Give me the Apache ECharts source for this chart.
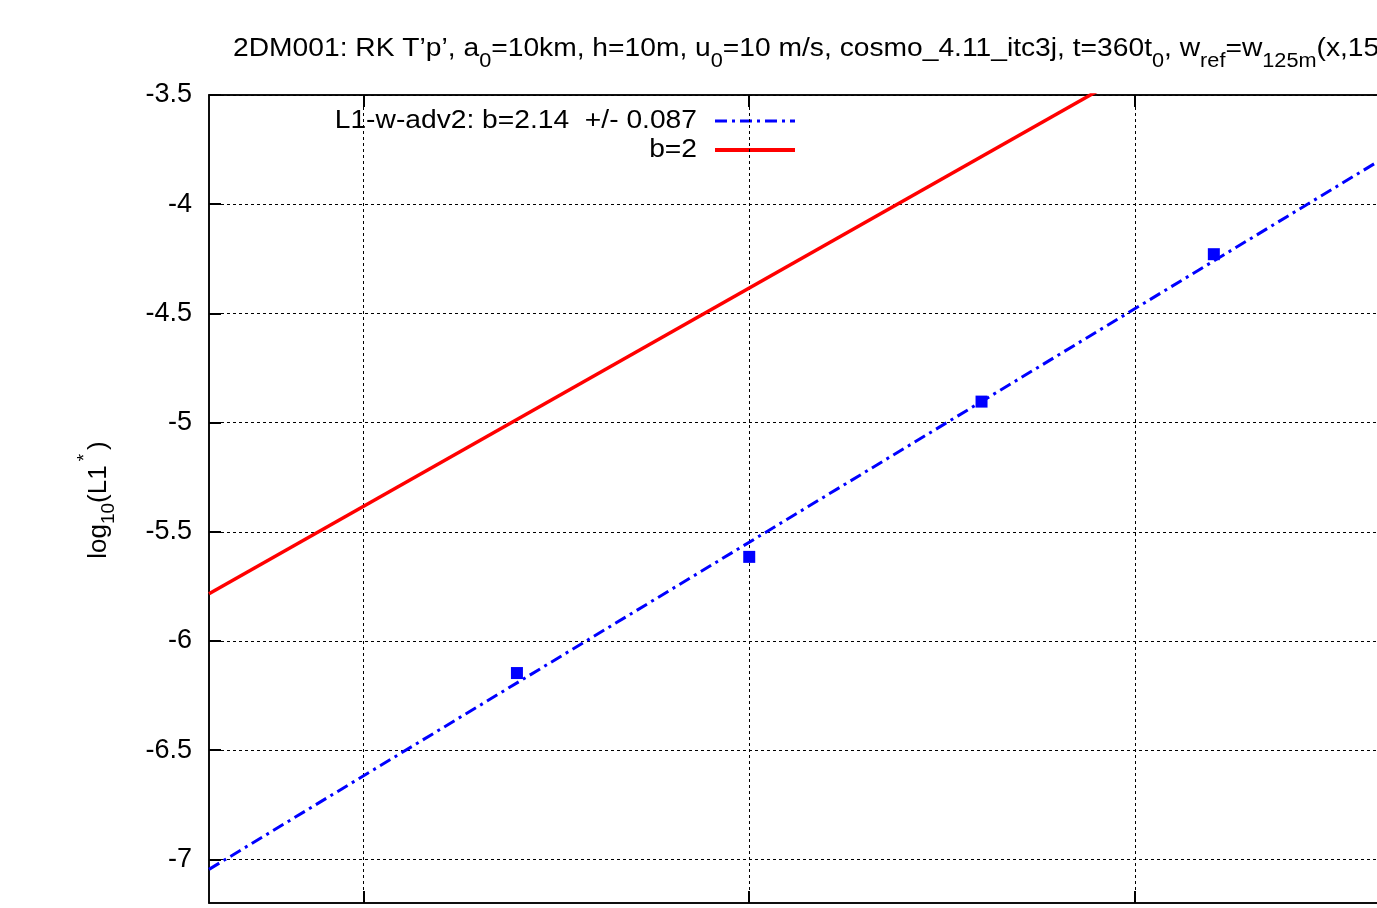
<!DOCTYPE html>
<html>
<head>
<meta charset="utf-8">
<script src="https://cdn.jsdelivr.net/npm/echarts@6/dist/echarts.min.js"></script>
<style>
  html, body { margin: 0; padding: 0; background: #fff; }
  #chart { width: 1377px; height: 908px; }
</style>
</head>
<body>
<div id="chart"></div>
<script>
// log10 of grid spacing (m) and measured error norm
const logDx = [2.699, 3.0, 3.301, 3.602];
const logL1 = [-6.147, -5.615, -4.904, -4.229];

// least-squares fit through the points, and the reference 2nd-order slope
const fitSlope = 2.14;
const fitErr = 0.087;
const fitIntercept = -11.968;
const refSlope = 2;
const refIntercept = -10.384;

// axis ranges and tick positions
const xRange = [2.3, 4.0];
const yRange = [-7.2, -3.5];
const xTicks = [2.5, 3.0, 3.5, 4.0];
const yTicks = [-7, -6.5, -6, -5.5, -5, -4.5, -4, -3.5];

const FONT = '"Liberation Sans", Arial, sans-serif';
const TITLE_STRETCH = 1.085;
const TEXT_STRETCH = 1.085;

function lineThrough(a, b) {
  return [[xRange[0], a + b * xRange[0]], [xRange[1], a + b * xRange[1]]];
}

const chart = echarts.init(document.getElementById('chart'), null, { renderer: 'canvas' });

const gridLine = { show: true, lineStyle: { color: '#000', width: 1, type: [3, 3] } };
const tickStyle = { show: true, inside: true, length: 12, lineStyle: { color: '#000', width: 2 } };

const option = {
  backgroundColor: '#fff',
  animation: false,
  grid: {
    left: 209, top: 95, bottom: 5, right: -144,
    outerBoundsMode: 'none',
    containLabel: false,
    show: true, borderColor: '#000', borderWidth: 1.5, backgroundColor: 'transparent'
  },
  xAxis: [{
    type: 'value', min: xRange[0], max: xRange[1], position: 'bottom',
    axisLine: { show: true, lineStyle: { color: '#000', width: 1.5 } },
    axisTick: Object.assign({ customValues: xTicks }, tickStyle),
    axisLabel: { customValues: xTicks, color: '#000', fontSize: 27, fontFamily: FONT, margin: 10 },
    splitLine: gridLine
  }, {
    type: 'value', min: xRange[0], max: xRange[1], position: 'top',
    axisLine: { show: true, lineStyle: { color: '#000', width: 1.5 } },
    axisTick: Object.assign({ customValues: xTicks }, tickStyle),
    axisLabel: { show: false },
    splitLine: { show: false }
  }],
  yAxis: [{
    type: 'value', min: yRange[0], max: yRange[1], position: 'left',
    axisLine: { show: true, lineStyle: { color: '#000', width: 1.5 } },
    axisTick: Object.assign({ customValues: yTicks }, tickStyle),
    axisLabel: {
      customValues: yTicks, color: '#000', fontSize: 27, fontFamily: FONT, margin: 17,
      formatter: v => String(v)
    },
    splitLine: gridLine
  }],
  series: [{
    name: 'L1-w-adv2 fit',
    type: 'line',
    data: lineThrough(fitIntercept, fitSlope),
    showSymbol: false,
    clip: true,
    lineStyle: { color: '#0000ff', width: 3, type: [12, 5, 3, 5] },
    z: 3
  }, {
    name: 'L1-w-adv2',
    type: 'scatter',
    data: logDx.map((x, i) => [x, logL1[i]]),
    symbol: 'rect',
    symbolSize: 12,
    itemStyle: { color: '#0000ff', opacity: 1 },
    z: 4
  }, {
    name: 'b=2',
    type: 'line',
    data: lineThrough(refIntercept, refSlope),
    showSymbol: false,
    clip: true,
    lineStyle: { color: '#ff0000', width: 3.5 },
    z: 3
  }],
  graphic: [
    {
      type: 'text', x: 233, y: 36, scaleX: TITLE_STRETCH,
      style: {
        text: '{m|2DM001: RK T\u2019p\u2019, a}{s|0}{m|=10km, h=10m, u}{s|0}{m|=10 m/s, cosmo_4.11_itc3j, t=360t}{s|0}{m|, w}{s|ref}{m|=w}{s|125m}{m|(x,150)}',
        verticalAlign: 'top',
        rich: {
          m: { fontSize: 26, fontFamily: FONT, fill: '#000', verticalAlign: 'bottom', padding: [0, 0, 9, 0] },
          s: { fontSize: 20, fontFamily: FONT, fill: '#000', verticalAlign: 'bottom', padding: [0, 0, 0, 0] }
        }
      }
    },
    {
      type: 'text', x: 97, y: 500, rotation: Math.PI / 2,
      style: {
        text: '{m|log}{s|10}{m|(L1}{p|*}{m|)}',
        align: 'center', verticalAlign: 'middle',
        rich: {
          m: { fontSize: 26, fontFamily: FONT, fill: '#000', verticalAlign: 'bottom', padding: [0, 0, 7, 0] },
          s: { fontSize: 19, fontFamily: FONT, fill: '#000', verticalAlign: 'bottom', padding: [0, 0, 0, 0] },
          p: { fontSize: 19, fontFamily: FONT, fill: '#000', verticalAlign: 'bottom', padding: [0, 4, 24, 4] }
        }
      }
    },
    {
      type: 'text', x: 697, y: 121, scaleX: TEXT_STRETCH,
      style: {
        text: 'L1-w-adv2: b=' + fitSlope + '  +/- ' + fitErr,
        align: 'right', verticalAlign: 'middle',
        fontSize: 26, fontFamily: FONT, fill: '#000'
      }
    },
    {
      type: 'line', shape: { x1: 715, y1: 121, x2: 795, y2: 121 },
      style: { stroke: '#0000ff', lineWidth: 3, lineDash: [12, 5, 3, 5] }
    },
    {
      type: 'text', x: 697, y: 150, scaleX: TEXT_STRETCH,
      style: {
        text: 'b=' + refSlope,
        align: 'right', verticalAlign: 'middle',
        fontSize: 26, fontFamily: FONT, fill: '#000'
      }
    },
    {
      type: 'line', shape: { x1: 715, y1: 150, x2: 795, y2: 150 },
      style: { stroke: '#ff0000', lineWidth: 4 }
    }
  ]
};

chart.setOption(option);
</script>
</body>
</html>
